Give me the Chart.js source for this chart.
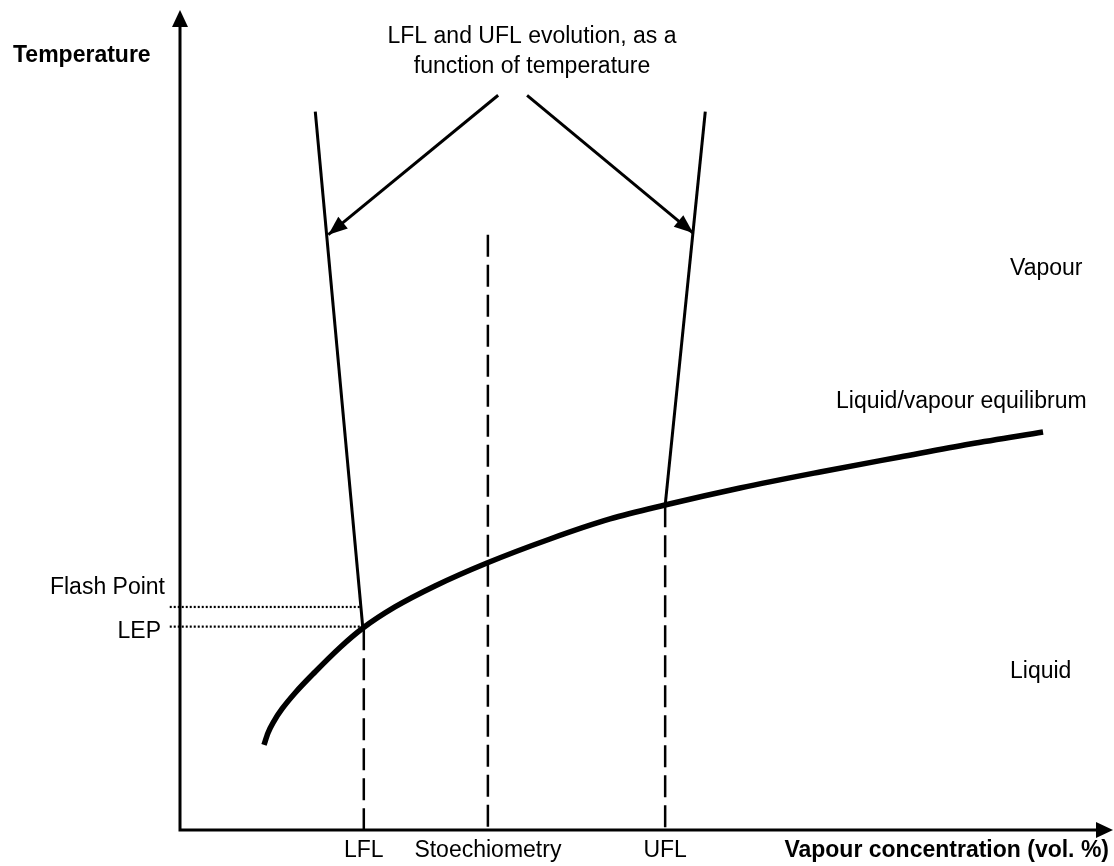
<!DOCTYPE html>
<html>
<head>
<meta charset="utf-8">
<script src="https://cdn.jsdelivr.net/npm/chart.js@4"></script>
<style>
  body { margin: 0; background: #fff; }
</style>
</head>
<body>
<canvas id="chart" width="1114" height="866"></canvas>
<script>
// values: x = vapour concentration, y = temperature (arbitrary units 0..100)
const curveX = [9.00, 9.43, 10.08, 10.93, 12.33, 14.47, 17.15, 19.61, 23.04, 27.33, 32.90, 39.66, 46.09, 51.98, 60.02, 68.60, 77.17, 84.67, 92.50];
const curveY = [10.37, 11.83, 13.29, 14.76, 16.71, 19.27, 22.26, 24.63, 27.20, 29.76, 32.56, 35.49, 37.93, 39.63, 41.71, 43.66, 45.49, 47.07, 48.54];

const lflX = [14.5, 19.6];
const lflY = [87.6, 24.6];
const uflX = [56.3, 52.0];
const uflY = [87.6, 39.6];

const markLabels = ['LFL', 'Stoechiometry', 'UFL'];
const markX = [19.7, 33.0, 52.0];
const markTop = [24.6, 72.6, 39.6];

const levelLabels = ['Flash Point', 'LEP'];
const levelY = [27.2, 24.8];
const levelEnd = [19.5, 19.6];

const arrowStartX = [34.1, 37.2];
const arrowStartY = [89.6, 89.6];
const arrowEndX = [15.9, 55.0];
const arrowEndY = [72.6, 72.8];

const FONT = '"Liberation Sans", Arial, sans-serif';

function pts(xs, ys) {
  return xs.map((v, i) => ({ x: v, y: ys[i] }));
}

let datasets = [];
datasets.push({ data: pts(curveX, curveY), borderWidth: 5.5, cubicInterpolationMode: 'monotone' });
datasets.push({ data: pts(lflX, lflY), borderWidth: 3 });
datasets.push({ data: pts(uflX, uflY), borderWidth: 3 });
markX.forEach((v, i) => {
  datasets.push({ data: [{ x: v, y: markTop[i] }, { x: v, y: 0 }], borderWidth: 2.5, borderDash: [22, 8] });
});
levelY.forEach((v, i) => {
  datasets.push({ data: [{ x: -1.1, y: v }, { x: levelEnd[i], y: v }], borderWidth: 2.2, borderDash: [2, 2], clip: false });
});
arrowStartX.forEach((v, i) => {
  datasets.push({ data: [{ x: v, y: arrowStartY[i] }, { x: arrowEndX[i], y: arrowEndY[i] }], borderWidth: 3 });
});
datasets.forEach(d => {
  d.showLine = true;
  d.pointRadius = 0;
  d.borderColor = '#000';
  d.borderCapStyle = 'butt';
});

function head(ctx, x0, y0, x1, y1, len, half) {
  const ang = Math.atan2(y1 - y0, x1 - x0);
  ctx.beginPath();
  ctx.moveTo(x1, y1);
  ctx.lineTo(x1 - len * Math.cos(ang) + half * Math.sin(ang), y1 - len * Math.sin(ang) - half * Math.cos(ang));
  ctx.lineTo(x1 - len * Math.cos(ang) - half * Math.sin(ang), y1 - len * Math.sin(ang) + half * Math.cos(ang));
  ctx.closePath();
  ctx.fill();
}

const drawings = {
  id: 'drawings',
  afterDatasetsDraw(chart) {
    const ctx = chart.ctx;
    const a = chart.chartArea;
    const sx = chart.scales.x, sy = chart.scales.y;
    ctx.save();
    ctx.fillStyle = '#000';
    ctx.strokeStyle = '#000';
    ctx.lineWidth = 3;

    // axes with arrows
    ctx.beginPath();
    ctx.moveTo(a.left, a.bottom + 1.5);
    ctx.lineTo(a.left, a.top + 10);
    ctx.moveTo(a.left - 1.5, a.bottom);
    ctx.lineTo(a.right - 10, a.bottom);
    ctx.stroke();
    head(ctx, a.left, a.bottom, a.left, a.top, 17, 8);
    head(ctx, a.left, a.bottom, a.right, a.bottom, 17, 8);

    // arrow heads on the annotation arrows
    arrowStartX.forEach((v, i) => {
      head(ctx, sx.getPixelForValue(v), sy.getPixelForValue(arrowStartY[i]),
        sx.getPixelForValue(arrowEndX[i]), sy.getPixelForValue(arrowEndY[i]), 19, 7.5);
    });

    ctx.textBaseline = 'alphabetic';
    ctx.font = 'bold 23px ' + FONT;
    ctx.textAlign = 'left';
    ctx.fillText('Temperature', 13, 62);
    ctx.textAlign = 'right';
    ctx.fillText('Vapour concentration (vol. %)', 1109, 857);

    ctx.font = '23px ' + FONT;
    ctx.textAlign = 'center';
    ctx.fillText('LFL and UFL evolution, as a', 532, 43);
    ctx.fillText('function of temperature', 532, 73);
    markLabels.forEach((t, i) => {
      ctx.fillText(t, sx.getPixelForValue(markX[i]), 857);
    });

    ctx.textAlign = 'left';
    ctx.fillText('Vapour', 1010, 275);
    ctx.fillText('Liquid/vapour equilibrum', 836, 408);
    ctx.fillText('Liquid', 1010, 678);

    ctx.textAlign = 'right';
    ctx.fillText(levelLabels[0], 165, 594);
    ctx.fillText(levelLabels[1], 161, 638);
    ctx.restore();
  }
};

new Chart(document.getElementById('chart'), {
  type: 'scatter',
  data: { datasets: datasets },
  options: {
    responsive: false,
    animation: false,
    devicePixelRatio: 1,
    layout: { padding: { left: 180, right: 1, top: 10, bottom: 36 } },
    scales: {
      x: { type: 'linear', min: 0, max: 100, display: false },
      y: { type: 'linear', min: 0, max: 100, display: false }
    },
    plugins: { legend: { display: false }, tooltip: { enabled: false } }
  },
  plugins: [drawings]
});
</script>
</body>
</html>
